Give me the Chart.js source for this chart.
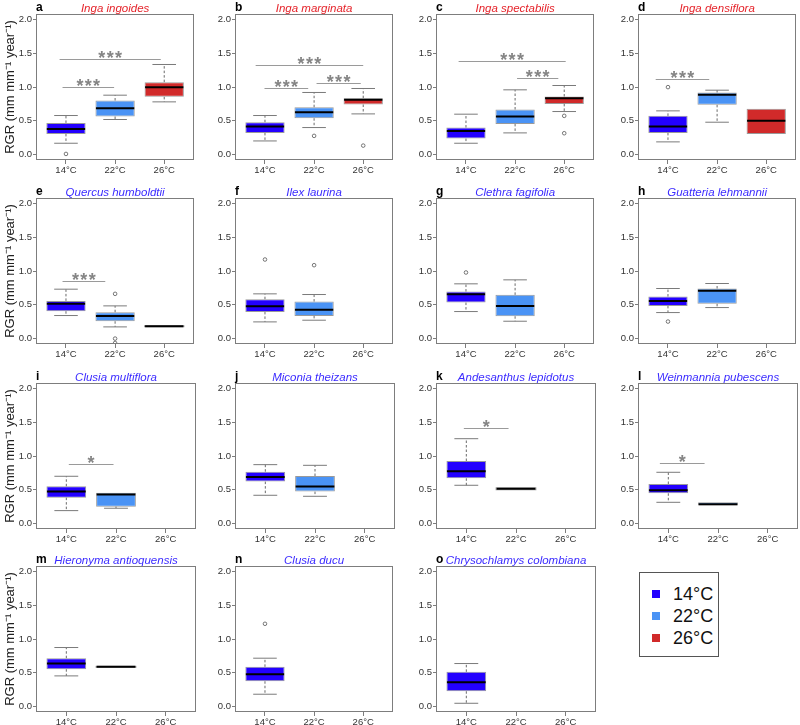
<!DOCTYPE html>
<html><head><meta charset="utf-8">
<script src="https://cdn.jsdelivr.net/npm/chart.js@4/dist/chart.umd.min.js"></script>
<style>
body{margin:0;background:#fff;width:800px;height:725px;position:relative;overflow:hidden;font-family:"Liberation Sans",Arial,sans-serif}
.p{position:absolute}
#legend{position:absolute;left:639px;top:572px;width:80px;height:85px;border:1px solid #555;box-sizing:border-box}
.lr{position:absolute;left:0;height:20px;line-height:20px;font-size:18px;color:#111;white-space:nowrap}
.sq{position:absolute;left:12px;top:6px;width:8px;height:8px}
.lt{position:absolute;left:33px;top:0}
</style></head><body>
<div id="legend"></div>
<script>
// ---- data ----
const temps = ['14°C', '22°C', '26°C'];
const letters = ['a','b','c','d','e','f','g','h','i','j','k','l','m','n','o'];
const species = ['Inga ingoides','Inga marginata','Inga spectabilis','Inga densiflora',
  'Quercus humboldtii','Ilex laurina','Clethra fagifolia','Guatteria lehmannii',
  'Clusia multiflora','Miconia theizans','Andesanthus lepidotus','Weinmannia pubescens',
  'Hieronyma antioquensis','Clusia ducu','Chrysochlamys colombiana'];
const titleIsRed = [true,true,true,true,false,false,false,false,false,false,false,false,false,false,false];
// box statistics per panel, per temperature (null = no data)
const whiskerLow = [
  [0.168,0.519,0.780],[0.202,0.400,0.602],[0.168,0.321,0.637],[0.188,0.479,0.306],
  [0.341,0.173,0.183],[0.247,0.272,null],[0.400,0.257,null],[0.385,0.459,null],
  [0.192,0.227,null],[0.419,0.404,null],[0.567,0.508,null],[0.315,0.266,null],
  [0.454,0.588,null],[0.183,null,null],[0.049,null,null]];
const quart1 = [
  [0.306,0.563,0.854],[0.321,0.538,0.741],[0.237,0.454,0.750],[0.321,0.736,0.306],
  [0.405,0.257,0.183],[0.395,0.336,null],[0.533,0.331,null],[0.484,0.514,null],
  [0.384,0.251,null],[0.621,0.473,null],[0.670,0.508,null],[0.448,0.266,null],
  [0.553,0.588,null],[0.375,null,null],[0.227,null,null]];
const medians = [
  [0.380,0.686,0.998],[0.415,0.627,0.810],[0.350,0.563,0.835],[0.415,0.884,0.499],
  [0.514,0.336,0.183],[0.479,0.425,null],[0.657,0.484,null],[0.558,0.706,null],
  [0.473,0.429,null],[0.690,0.547,null],[0.773,0.515,null],[0.493,0.286,null],
  [0.637,0.588,null],[0.479,null,null],[0.360,null,null]];
const quart3 = [
  [0.469,0.800,1.072],[0.479,0.701,0.835],[0.400,0.667,0.859],[0.573,0.919,0.677],
  [0.558,0.390,0.183],[0.583,0.548,null],[0.696,0.647,null],[0.622,0.741,null],
  [0.552,0.458,null],[0.768,0.704,null],[0.926,0.522,null],[0.586,0.315,null],
  [0.716,0.588,null],[0.588,null,null],[0.514,null,null]];
const whiskerHigh = [
  [0.578,0.879,1.333],[0.578,0.919,0.978],[0.598,0.958,1.022],[0.647,0.953,0.677],
  [0.731,0.484,0.183],[0.662,0.652,null],[0.810,0.869,null],[0.741,0.815,null],
  [0.700,0.462,null],[0.872,0.862,null],[1.256,0.522,null],[0.759,0.315,null],
  [0.874,0.588,null],[0.716,null,null],[0.637,null,null]];
// outliers: [temperature index, value]
const outliers = [
  [[0,0.01]],[[1,0.277],[2,0.133]],[[2,0.573],[2,0.316]],[[0,0.998]],
  [[1,0.662],[1,0.0],[1,-0.065]],[[0,1.17],[1,1.086]],[[0,0.978]],[[0,0.252]],
  [],[],[],[],[],[[0,1.225]],[]];
// significance brackets: [from x, to x, level, label]
const signif = [
  [[0.93,1.98,0.998,'***'],[0.87,2.93,1.417,'***']],
  [[0.99,1.88,0.988,'***'],[2.05,2.95,1.052,'***'],[0.81,3.0,1.319,'***']],
  [[0.85,3.03,1.378,'***'],[2.04,2.88,1.131,'***']],
  [[0.75,1.84,1.116,'***']],
  [[0.93,1.80,0.854,'***']],
  [],[],[],
  [[1.05,1.95,0.877,'*']],
  [],
  [[0.95,1.85,1.42,'*']],
  [[0.83,1.73,0.897,'*']],
  [],[],[]];
const yTicks = [0, 0.5, 1.0, 1.5, 2.0];
// ---- style ----
const boxColors = ['#2300ff', '#4a93f5', '#d12a2a'];
const colLefts = [37, 236, 437, 639];
const rowTops = [14, 198, 383, 566];
const plotW = 158, plotH = 146, yAxisW = 37, xAxisH = 24, titleH = 14, padR = 3;
const FONT = '"Liberation Sans", Arial, Helvetica, sans-serif';
Chart.defaults.font.family = FONT;

// legend
const lg = document.getElementById('legend');
temps.forEach((t, i) => {
  const r = document.createElement('div');
  r.className = 'lr'; r.style.top = (11 + i * 22) + 'px'; r.style.width = '78px';
  r.innerHTML = '<span class="sq" style="background:' + boxColors[i] + '"></span><span class="lt">' + t + '</span>';
  lg.appendChild(r);
});

const boxPlugin = {
  id: 'boxplot',
  afterDatasetsDraw(chart, args, opts) {
    const p = opts.panel;
    const ctx = chart.ctx, ys = chart.scales.y;
    const meta = chart.getDatasetMeta(0);
    ctx.save();
    meta.data.forEach((el, k) => {
      const g = chart.data.datasets[0].data[k].g;
      const cx = el.x, w = el.width;
      const yLo = ys.getPixelForValue(whiskerLow[p][g]);
      const yHi = ys.getPixelForValue(whiskerHigh[p][g]);
      const yQ1 = ys.getPixelForValue(quart1[p][g]);
      const yQ3 = ys.getPixelForValue(quart3[p][g]);
      const yM = ys.getPixelForValue(medians[p][g]);
      // whiskers
      ctx.strokeStyle = '#6a6a6a'; ctx.lineWidth = 1; ctx.setLineDash([2.5, 2]);
      ctx.beginPath();
      if (yHi < yQ3 - 0.5) { ctx.moveTo(cx, yQ3); ctx.lineTo(cx, yHi); }
      if (yLo > yQ1 + 0.5) { ctx.moveTo(cx, yQ1); ctx.lineTo(cx, yLo); }
      ctx.stroke();
      ctx.setLineDash([]);
      ctx.strokeStyle = '#7a7a7a';
      ctx.beginPath();
      const cw = w * 0.3;
      if (yHi < yQ3 - 0.5) { ctx.moveTo(cx - cw, yHi); ctx.lineTo(cx + cw, yHi); }
      if (yLo > yQ1 + 0.5) { ctx.moveTo(cx - cw, yLo); ctx.lineTo(cx + cw, yLo); }
      ctx.stroke();
      if (Math.abs(yQ1 - yQ3) < 1) {
        ctx.strokeStyle = '#999'; ctx.strokeRect(cx - w / 2, Math.min(yQ1, yQ3) - 0.5, w, Math.abs(yQ1 - yQ3) + 1);
      }
      // median
      ctx.strokeStyle = '#000'; ctx.lineWidth = 2;
      ctx.beginPath(); ctx.moveTo(cx - w / 2 + 0.5, yM); ctx.lineTo(cx + w / 2 - 0.5, yM); ctx.stroke();
    });
    ctx.restore();
  },
  afterDraw(chart, args, opts) {
    const p = opts.panel;
    const ctx = chart.ctx, xs = chart.scales.x, ys = chart.scales.y, a = chart.chartArea;
    ctx.save();
    // frame
    ctx.strokeStyle = '#7d7d7d'; ctx.lineWidth = 1;
    ctx.strokeRect(Math.round(a.left) - 0.5, Math.round(a.top) + 0.5, Math.round(a.right - a.left) + 1, Math.round(a.bottom - a.top) - 1);
    // significance
    signif[p].forEach(s => {
      const x1 = xs.getPixelForValue(s[0]), x2 = xs.getPixelForValue(s[1]);
      const y = Math.round(ys.getPixelForValue(s[2])) + 0.5;
      ctx.strokeStyle = '#9a9a9a'; ctx.lineWidth = 1;
      ctx.beginPath(); ctx.moveTo(x1, y); ctx.lineTo(x2, y); ctx.stroke();
      ctx.fillStyle = '#858585';
      ctx.font = 'bold 18px ' + FONT;
      ctx.letterSpacing = '1.3px';
      ctx.textAlign = 'center'; ctx.textBaseline = 'alphabetic';
      ctx.fillText(s[3], (x1 + x2) / 2 + 0.6, y + 4);
    });
    ctx.letterSpacing = '0px';
    // title and letter
    ctx.textBaseline = 'alphabetic';
    ctx.textAlign = 'center';
    ctx.fillStyle = titleIsRed[p] ? '#e5232a' : '#3b2bff';
    ctx.font = 'italic 11.5px ' + FONT;
    ctx.fillText(species[p], (a.left + a.right) / 2, a.top - 2.5);
    ctx.textAlign = 'left';
    ctx.fillStyle = '#000';
    ctx.font = 'bold 12px ' + FONT;
    ctx.fillText(letters[p], a.left - 1, a.top - 3.5);
    ctx.restore();
  }
};

species.forEach((name, p) => {
  const row = Math.floor(p / 4), col = p % 4;
  const div = document.createElement('div');
  div.className = 'p';
  const W = yAxisW + plotW + padR, H = titleH + plotH + xAxisH;
  div.style.left = (colLefts[col] - yAxisW) + 'px';
  div.style.top = (rowTops[row] - titleH) + 'px';
  div.style.width = W + 'px'; div.style.height = H + 'px';
  const cv = document.createElement('canvas');
  cv.width = W; cv.height = H; cv.style.width = W + 'px'; cv.style.height = H + 'px';
  div.appendChild(cv);
  document.body.appendChild(div);

  const boxData = [], colors = [];
  temps.forEach((t, g) => {
    if (quart1[p][g] !== null) {
      boxData.push({ x: g + 1, y: [quart1[p][g], quart3[p][g]], g: g });
      colors.push(boxColors[g]);
    }
  });
  const outData = outliers[p].map(o => ({ x: o[0] + 1, y: o[1] }));

  new Chart(cv, {
    type: 'bar',
    data: {
      datasets: [
        { type: 'bar', data: boxData, backgroundColor: colors, borderColor: '#9a9a9a', borderWidth: 1,
          borderSkipped: false, barPercentage: 1.0, categoryPercentage: 0.8, order: 2 },
        { type: 'scatter', data: outData, pointStyle: 'circle', pointRadius: 1.8, borderColor: '#555',
          borderWidth: 0.8, backgroundColor: 'rgba(0,0,0,0)', order: 1 }
      ]
    },
    options: {
      responsive: false, animation: false, devicePixelRatio: 1,
      layout: { padding: { top: titleH, right: padR, left: 0, bottom: 0 } },
      plugins: { legend: { display: false }, tooltip: { enabled: false }, title: { display: false }, boxplot: { panel: p } },
      scales: {
        x: {
          type: 'linear', min: 0.41, max: 3.59, offset: false,
          afterFit(s) { s.height = xAxisH; },
          afterBuildTicks(s) { s.ticks = temps.map((t, i) => ({ value: i + 1 })); },
          ticks: { stepSize: 1, includeBounds: false, autoSkip: false, maxRotation: 0,
            callback: v => temps[Math.round(v) - 1] || '', font: { size: 9.5 }, color: '#333', padding: 1 },
          grid: { display: true, drawOnChartArea: false, drawTicks: true, tickLength: 4, color: '#7d7d7d', offset: false },
          border: { display: false }
        },
        y: {
          min: -0.08, max: 2.08,
          afterFit(s) { s.width = yAxisW; },
          afterBuildTicks(s) { s.ticks = yTicks.map(v => ({ value: v })); },
          ticks: { stepSize: 0.5, includeBounds: false, callback: v => Number(v).toFixed(1), font: { size: 9.5 }, color: '#333', padding: 1 },
          grid: { drawOnChartArea: false, drawTicks: true, tickLength: 4, color: '#7d7d7d' },
          border: { display: false },
          title: { display: col === 0, text: 'RGR (mm mm⁻¹ year⁻¹)', font: { size: 13 }, color: '#222', padding: { top: 3, bottom: 0 } }
        }
      }
    },
    plugins: [boxPlugin]
  });
});
</script>
</body></html>
